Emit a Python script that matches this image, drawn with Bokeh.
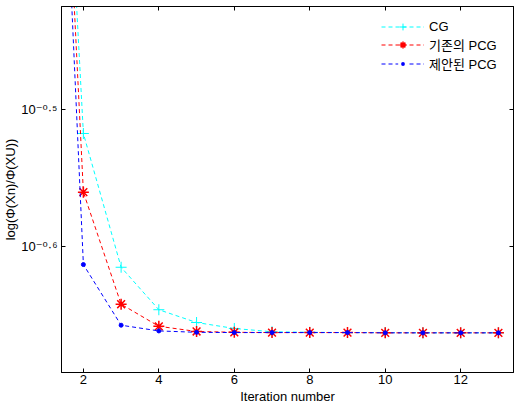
import numpy as np
from bokeh.plotting import figure
from bokeh.models import (Range1d, FixedTicker, LinearAxis, LogAxis, Legend, LegendItem)
from bokeh.embed import file_html
from bokeh.resources import INLINE

iterations = list(range(1, 14))
cg = [1.0, 0.3036, 0.2425, 0.2258, 0.2210, 0.2188, 0.2176, 0.2174, 0.2173, 0.2173, 0.2172, 0.2172, 0.2172]
pcg_old = [1.0, 0.2751, 0.2279, 0.2196, 0.2177, 0.2174, 0.2173, 0.2173, 0.2173, 0.2172, 0.2172, 0.2172, 0.2172]
pcg_new = [1.0, 0.2436, 0.2200, 0.2179, 0.2174, 0.2173, 0.2173, 0.2173, 0.2173, 0.2172, 0.2172, 0.2172, 0.2172]
series_names = ["CG", "기존의 PCG", "제안된 PCG"]

x_ticks = [2, 4, 6, 8, 10, 12]
y_tick_exponents = [-0.6, -0.5]
y_tick_labels = ["10⁻⁰·⁶", "10⁻⁰·⁵"]
y_ticks = [10 ** e for e in y_tick_exponents]

FONT = "Liberation Sans, DejaVu Sans, Noto Sans CJK KR"

p = figure(width=514, height=406, x_range=Range1d(1.42, 13.40),
           y_range=Range1d(0.2032, 0.3758), y_axis_type="log",
           x_axis_location=None, y_axis_location=None,
           output_backend="svg", toolbar_location=None,
           min_border_left=57, min_border_right=1, min_border_top=6, min_border_bottom=33)
p.grid.visible = False
p.outline_line_color = "black"
p.background_fill_color = "white"
p.border_fill_color = "white"


def style(ax, labels=True):
    ax.major_tick_in = 4
    ax.major_tick_out = 0
    ax.minor_tick_in = 0
    ax.minor_tick_out = 0
    ax.axis_line_color = "black"
    ax.major_tick_line_color = "black"
    ax.major_label_text_font = FONT
    ax.major_label_text_color = "black"
    ax.axis_label_text_font = FONT
    ax.axis_label_text_font_style = "normal"
    ax.axis_label_text_font_size = "13px"
    ax.axis_label_text_color = "black"
    if labels:
        ax.major_label_text_font_size = "13px"
    else:
        ax.major_label_text_font_size = "1px"
        ax.major_label_text_alpha = 0
        ax.major_label_standoff = 0


bottom = LinearAxis(ticker=FixedTicker(ticks=x_ticks), axis_label="Iteration number")
style(bottom)
bottom.major_label_standoff = 2
bottom.axis_label_standoff = 2
p.add_layout(bottom, "below")

top = LinearAxis(ticker=FixedTicker(ticks=x_ticks))
style(top, labels=False)
p.add_layout(top, "above")

left = LogAxis(ticker=FixedTicker(ticks=y_ticks), axis_label="log(Φ(Xn)/Φ(XU))",
               major_label_overrides={t: lab for t, lab in zip(y_ticks, y_tick_labels)})
style(left)
left.major_label_text_font_size = "13px"
left.major_label_standoff = 4
left.axis_label_standoff = 0
p.add_layout(left, "left")

right = LogAxis(ticker=FixedTicker(ticks=y_ticks))
style(right, labels=False)
p.add_layout(right, "right")

dash = "4 3"
l1 = p.line(iterations, cg, line_color="#00ffff", line_dash=dash, line_width=1)
s1 = p.scatter(iterations, cg, marker="cross", size=11, line_color="#00ffff", line_width=1)
l2 = p.line(iterations, pcg_old, line_color="#ff0000", line_dash=dash, line_width=1)
s2 = p.scatter(iterations, pcg_old, marker="asterisk", size=11, line_color="#ff0000", line_width=1.5)
l3 = p.line(iterations, pcg_new, line_color="#0000ff", line_dash=dash, line_width=1)
s3 = p.scatter(iterations, pcg_new, marker="circle", size=4, line_color="#0000ff", fill_color="#0000ff")

# legend proxy (first point lies above the visible range) so the legend dot stays small
s3_leg = p.scatter(iterations[:1], pcg_new[:1], marker="circle", size=4,
                   fill_color="#0000ff", line_color="white", line_width=3)

legend = Legend(items=[LegendItem(label=series_names[0], renderers=[l1, s1]),
                       LegendItem(label=series_names[1], renderers=[l2, s2]),
                       LegendItem(label=series_names[2], renderers=[l3, s3_leg])],
                location="top_right", border_line_color=None, background_fill_alpha=0,
                label_text_font=FONT, label_text_font_size="13px", label_text_color="black",
                glyph_width=43, glyph_height=17, label_height=17, label_width=72,
                label_standoff=5, spacing=0, padding=6, margin=12)
p.add_layout(legend)

open("out.html", "w").write(file_html(p, INLINE))
